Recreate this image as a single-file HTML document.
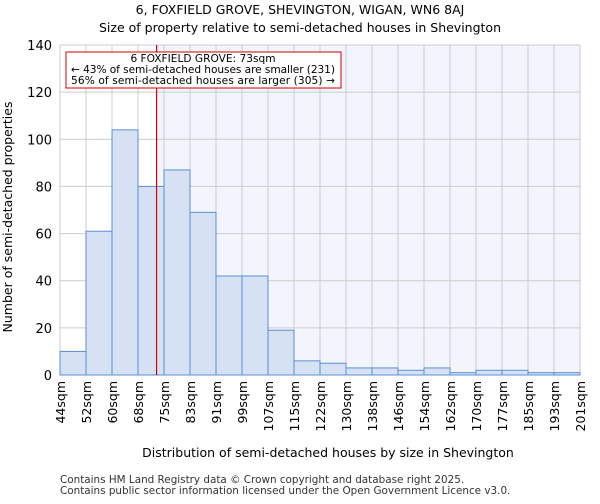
<!DOCTYPE html>
<html><head><meta charset="utf-8"><style>
body{margin:0;background:#fff;font-family:"DejaVu Sans","Liberation Sans",sans-serif}
</style></head><body>
<svg width="600" height="500" xmlns="http://www.w3.org/2000/svg" font-family="DejaVu Sans, Liberation Sans, sans-serif">
<text x="300" y="14" text-anchor="middle" font-size="12.5">6, FOXFIELD GROVE, SHEVINGTON, WIGAN, WN6 8AJ</text>
<text x="300" y="32" text-anchor="middle" font-size="12.5">Size of property relative to semi-detached houses in Shevington</text>
<g id="plot"></g>
<text x="328" y="457" text-anchor="middle" font-size="12.5">Distribution of semi-detached houses by size in Shevington</text>
<text transform="translate(12,217) rotate(-90)" text-anchor="middle" font-size="12.5">Number of semi-detached properties</text>
<text x="60" y="483" font-size="10.4" fill="#333">Contains HM Land Registry data © Crown copyright and database right 2025.</text>
<text x="60" y="494" font-size="10.4" fill="#333">Contains public sector information licensed under the Open Government Licence v3.0.</text>
</svg>
<script>
const categories=["44sqm","52sqm","60sqm","68sqm","75sqm","83sqm","91sqm","99sqm","107sqm","115sqm","122sqm","130sqm","138sqm","146sqm","154sqm","162sqm","170sqm","177sqm","185sqm","193sqm","201sqm"];
const counts=[10,61,104,80,87,69,42,42,19,6,5,3,3,2,3,1,2,2,1,1];
const yTicks=[0,20,40,60,80,100,120,140];
const markerValue=73;
const binEdgesSqm=[44,52,60,68,75,83,91,99,107,115,122,130,138,146,154,162,170,177,185,193,201];
const X0=60,X1=580,Y0=375,Y1=45,yMax=140;
const bw=(X1-X0)/counts.length;
const ys=v=>Y0-(v/yMax)*(Y0-Y1);
const xs=i=>X0+i*bw;
function xv(v){for(let i=0;i<binEdgesSqm.length-1;i++){if(v>=binEdgesSqm[i]&&v<=binEdgesSqm[i+1])return xs(i)+bw*(v-binEdgesSqm[i])/(binEdgesSqm[i+1]-binEdgesSqm[i]);}return X0;}
const NS="http://www.w3.org/2000/svg";
const g=document.getElementById('plot');
function mk(t,a,p){const e=document.createElementNS(NS,t);for(const k in a)e.setAttribute(k,a[k]);(p||g).appendChild(e);return e;}
const mx=xv(markerValue);
let bg=mk('rect',{x:mx,y:Y1,width:X1-mx,height:Y0-Y1,fill:'#f2f5fd'});


for(let i=0;i<=counts.length;i++){let l=mk('line',{x1:xs(i),x2:xs(i),y1:Y1,y2:Y0,stroke:'#cccccc'});

}
yTicks.forEach(t=>{let l=mk('line',{x1:X0,x2:X1,y1:ys(t),y2:ys(t),stroke:'#cccccc'});


let tx=mk('text',{x:X0-8,y:ys(t)+5,'text-anchor':'end','font-size':13});tx.textContent=t;

});
counts.forEach((c,i)=>{let r=mk('rect',{x:xs(i),y:ys(c),width:bw,height:Y0-ys(c),fill:'#d6e2f3',stroke:'#5b8fd6','stroke-width':1});

});
categories.forEach((c,i)=>{let tx=mk('text',{transform:`translate(${xs(i)+5},381) rotate(-90)`,'text-anchor':'end','font-size':12.5});tx.textContent=c;

});
let ml=mk('line',{x1:mx,x2:mx,y1:Y1,y2:Y0,stroke:'#d00000','stroke-width':1.2});


let box=mk('rect',{x:66,y:52,width:275,height:36,fill:'#fff',stroke:'#d00000'});


["6 FOXFIELD GROVE: 73sqm","← 43% of semi-detached houses are smaller (231)","56% of semi-detached houses are larger (305) →"].forEach((s,i)=>{let t=mk('text',{x:203,y:62+i*11,'text-anchor':'middle','font-size':10.6,textLength:i?264:0});if(!i)t.removeAttribute('textLength');t.textContent=s;

});
</script>
</body></html>
